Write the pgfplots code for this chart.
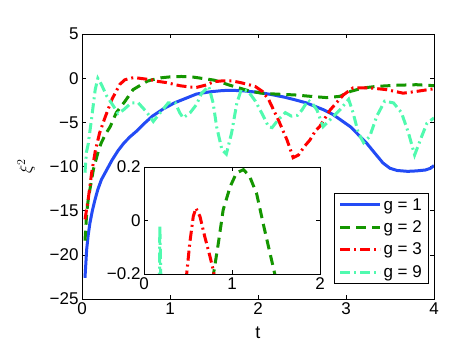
\documentclass[border=0pt]{standalone}
\usepackage{fontspec}
\setmainfont{Liberation Sans}
\usepackage{pgfplots}
\pgfplotsset{compat=1.18}
\usepackage{pgfplotstable}

\definecolor{cblue}{RGB}{35,75,245}
\definecolor{cgreen}{RGB}{20,150,0}
\definecolor{cred}{RGB}{255,0,0}
\definecolor{ccyan}{RGB}{80,250,175}

% g = 1
\pgfplotstableread{
t y
0.034 -22.6
0.053 -19.4
0.07 -17.8
0.09 -16.4
0.12 -14.9
0.148 -13.75
0.18 -12.6
0.22 -11.5
0.28 -10.4
0.34 -9.3
0.41 -8.2
0.48 -7.3
0.55 -6.6
0.62 -6.0
0.7 -5.2
0.8 -4.3
0.92 -3.5
1.05 -2.8
1.15 -2.4
1.3 -1.8
1.45 -1.55
1.6 -1.4
1.72 -1.38
1.85 -1.45
2.0 -1.6
2.15 -1.85
2.3 -2.15
2.42 -2.45
2.55 -2.8
2.65 -3.2
2.75 -3.6
2.85 -4.1
2.95 -4.8
3.05 -5.5
3.14 -6.4
3.23 -7.3
3.32 -8.4
3.42 -9.6
3.5 -10.2
3.58 -10.45
3.7 -10.55
3.8 -10.5
3.9 -10.4
3.96 -10.2
4.0 -9.9
}\gone

% g = 2
\pgfplotstableread{
t y
0.034 -18.4
0.053 -15.3
0.07 -13.8
0.09 -12.6
0.13 -10.3
0.19 -8.1
0.22 -7.3
0.27 -6.3
0.32 -5.5
0.39 -3.9
0.49 -2.6
0.58 -1.3
0.68 -0.7
0.74 -0.35
0.79 -0.2
0.845 -0.085
0.9 0.04
0.98 0.127
1.05 0.177
1.13 0.19
1.2 0.165
1.28 0.1
1.36 -0.02
1.43 -0.12
1.5 -0.22
1.58 -0.45
1.66 -0.74
1.8 -1.15
1.9 -1.45
2.04 -1.7
2.2 -1.8
2.42 -1.9
2.6 -2.06
2.78 -2.2
2.93 -2.06
3.05 -1.5
3.2 -1.1
3.35 -0.93
3.58 -0.8
3.8 -0.74
4.0 -0.85
}\gtwo

% g = 3
\pgfplotstableread{
t y
0.034 -16.0
0.07 -13.75
0.11 -10.7
0.15 -8.3
0.2 -6.2
0.26 -4.5
0.34 -2.4
0.43 -0.7
0.485 -0.2
0.52 -0.085
0.56 0.015
0.59 0.046
0.636 0.015
0.69 -0.06
0.75 -0.135
0.79 -0.19
0.85 -0.35
0.96 -0.5
1.11 -0.85
1.22 -1.0
1.3 -1.05
1.4 -0.8
1.5 -0.4
1.6 -0.3
1.7 -0.3
1.8 -0.5
1.9 -0.75
1.97 -0.95
2.05 -1.5
2.12 -2.4
2.23 -4.7
2.33 -7.0
2.4 -9.0
2.46 -8.7
2.53 -7.7
2.59 -7.0
2.65 -6.0
2.7 -5.5
2.82 -3.6
2.97 -1.9
3.08 -1.1
3.27 -1.1
3.46 -1.3
3.65 -1.7
3.8 -1.5
4.0 -1.2
}\gthree

% g = 9
\pgfplotstableread{
t y
0.034 -10.7
0.05 -8.4
0.07 -7.5
0.11 -4.5
0.15 -1.3
0.18 -0.02
0.22 -0.7
0.28 -2.0
0.36 -3.2
0.41 -4.0
0.47 -3.6
0.56 -2.8
0.64 -2.8
0.74 -3.9
0.81 -4.9
0.89 -3.9
0.98 -2.8
1.06 -2.8
1.11 -3.9
1.15 -4.5
1.23 -3.9
1.3 -3.0
1.36 -1.7
1.44 -0.93
1.49 -2.8
1.53 -5.5
1.59 -8.1
1.64 -8.6
1.7 -6.2
1.76 -2.8
1.81 -1.3
1.89 -1.5
1.97 -2.6
2.04 -3.9
2.12 -5.5
2.16 -5.6
2.23 -4.7
2.31 -3.9
2.38 -4.3
2.45 -4.2
2.5 -3.6
2.57 -2.5
2.62 -2.9
2.67 -3.6
2.74 -5.5
2.82 -4.7
2.93 -3.6
3.03 -2.4
3.08 -3.9
3.14 -6.2
3.2 -7.3
3.27 -6.6
3.35 -4.3
3.44 -2.6
3.54 -2.8
3.63 -3.9
3.71 -6.2
3.78 -8.7
3.86 -6.6
3.92 -5.1
4.0 -4.5
}\gnine

\pgfplotsset{
  matlab/.style={
    scale only axis,
    tick align=inside,
    major tick length=4pt,
    tick style={black, line width=0.5pt},
    axis line style={line width=0.6pt},
    every tick label/.append style={font=\fontsize{17}{20}\selectfont},
  },
  s1/.style={cblue, line width=3pt},
  s2/.style={cgreen, line width=3pt, dash pattern=on 10pt off 6pt},
  s3/.style={cred, line width=3pt, dash pattern=on 10pt off 4pt on 2pt off 4pt},
  s9/.style={ccyan, line width=3pt, dash pattern=on 10pt off 4pt on 2pt off 4pt},
}

\begin{document}
\begin{tikzpicture}
\path[use as bounding box] (-82pt,-54pt) rectangle (387pt,299pt);

\begin{axis}[
  matlab,
  at={(0pt,0pt)}, anchor=south west,
  width=352pt, height=265pt,
  xmin=0, xmax=4, ymin=-25, ymax=5,
  xtick={0,1,2,3,4}, xticklabels={0,1,2,3,4},
  ytick={-25,-20,-15,-10,-5,0,5},
  yticklabels={−25,−20,−15,−10,−5,0,5},
  xlabel={t}, ylabel={$\xi^2$},
  label style={font=\fontsize{18}{21}\selectfont},
  xlabel style={at={(axis description cs:0.5,0)}, anchor=center, yshift=-34pt},
  ylabel style={at={(axis description cs:0,0.5)}, anchor=center, yshift=56pt},
  legend style={at={(0.983,0.057)}, anchor=south east, draw=black, fill=white,
    font=\fontsize{17}{20}\selectfont, row sep=5pt, inner xsep=4pt, inner ysep=3pt},
  legend cell align=left,
  legend image code/.code={\draw[#1] (0pt,0pt) -- (40pt,0pt);},
]
\addplot[s1] table[x=t, y=y] {\gone};
\addplot[s2] table[x=t, y=y] {\gtwo};
\addplot[s3] table[x=t, y=y] {\gthree};
\addplot[s9] table[x=t, y=y] {\gnine};
\legend{g = 1, g = 2, g = 3, g = 9}
\end{axis}

\begin{axis}[
  matlab,
  at={(62pt,25pt)}, anchor=south west,
  width=176pt, height=107pt,
  xmin=0, xmax=2, ymin=-0.2, ymax=0.2,
  xtick={0,1,2}, xticklabels={0,1,2},
  ytick={-0.2,0,0.2}, yticklabels={−0.2,0,0.2},
  axis background/.style={fill=white},
]
\addplot[s1] table[x=t, y=y] {\gone};
\addplot[s2] table[x=t, y=y] {\gtwo};
\addplot[s3] table[x=t, y=y] {\gthree};
\addplot[s9] table[x=t, y=y] {\gnine};
\end{axis}
\end{tikzpicture}
\end{document}
